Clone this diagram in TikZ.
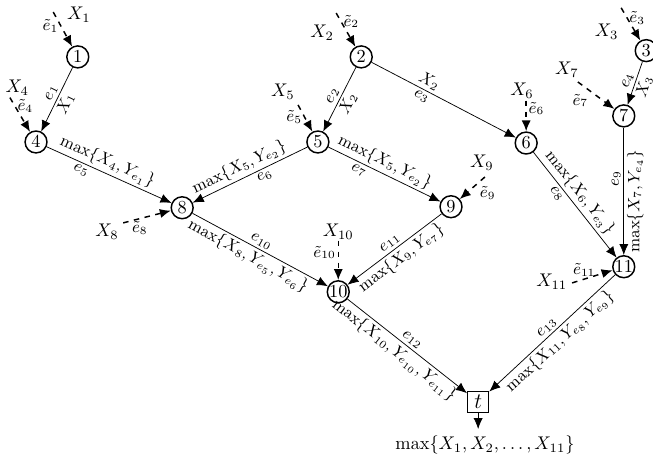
\documentclass[tikz,border=0pt]{standalone}
\usepackage{amsmath,amssymb}
\usetikzlibrary{positioning,arrows.meta}

\begin{document}
\begin{tikzpicture}[
  vertex/.style={draw,circle,thick,minimum size=4.2mm,inner sep=0pt},
  sink/.style={draw,thick,minimum size=4mm,inner sep=1pt,font=\large},
  input/.style={->,thick,dashed},
  edge label/.style={font=\small,sloped,inner sep=1.5pt},
  up label/.style={font=\small,rotate=90,inner sep=1.5pt},
  tilde label/.style={font=\small,inner sep=1pt},
  >={Latex[length=6pt,width=5pt]}]
\useasboundingbox (0,0) rectangle (12.51,8.79);
% vertices
\node[vertex] (n1) at (1.49,7.70) {$1$};
\node[vertex] (n2) at (6.92,7.70) {$2$};
\node[vertex] (n3) at (12.38,7.82) {$3$};
\node[vertex] (n4) at (0.69,6.07) {$4$};
\node[vertex] (n5) at (6.09,6.07) {$5$};
\node[vertex] (n6) at (10.08,6.05) {$6$};
\node[vertex] (n7) at (11.95,6.57) {$7$};
\node[vertex] (n8) at (3.49,4.81) {$8$};
\node[vertex] (n9) at (8.64,4.83) {$9$};
\node[vertex] (n10) at (6.48,3.20) {$10$};
\node[vertex] (n11) at (11.95,3.68) {$11$};
\node[sink] (t) at (9.16,1.09) {$t$};
\node (out) at (9.29,0.27) {$\max\{X_1, X_2, \ldots, X_{11}\}$};
% inputs
\coordinate (s1) at (1.02,8.56);
\coordinate (s2) at (6.44,8.54);
\coordinate (s3) at (11.90,8.64);
\coordinate (s4) at (0.19,6.92);
\coordinate (s5) at (5.71,6.78);
\coordinate (s6) at (10.08,6.86);
\coordinate (s7) at (11.07,7.22);
\coordinate (s8) at (2.36,4.52);
\coordinate (s9) at (9.29,5.40);
\coordinate (s10) at (6.48,4.18);
\coordinate (s11) at (10.96,3.37);
\node (x1) at (1.51,8.51) {$X_1$};
\node (x2) at (6.17,8.16) {$X_2$};
\node (x3) at (11.62,8.18) {$X_3$};
\node (x4) at (0.33,7.11) {$X_4$};
\node (x5) at (5.42,7.03) {$X_5$};
\node (x6) at (10.00,7.05) {$X_6$};
\node (x7) at (10.86,7.45) {$X_7$};
\node (x8) at (2.05,4.35) {$X_8$};
\node (x9) at (9.23,5.67) {$X_9$};
\node (x10) at (6.48,4.35) {$X_{10}$};
\node (x11) at (10.57,3.39) {$X_{11}$};
\draw[input] (s1) -- node[tilde label,left,pos=0.4]{$\tilde{e}_1$} (n1);
\draw[input] (s2) -- node[tilde label,right,pos=0.25]{$\tilde{e}_2$} (n2);
\draw[input] (s3) -- node[tilde label,right,pos=0.3]{$\tilde{e}_3$} (n3);
\draw[input] (s4) -- node[tilde label,right,pos=0.25]{$\tilde{e}_4$} (n4);
\draw[input] (s5) -- node[tilde label,left,pos=0.45]{$\tilde{e}_5$} (n5);
\draw[input] (s6) -- node[tilde label,right,pos=0.25]{$\tilde{e}_6$} (n6);
\draw[input] (s7) -- node[tilde label,below left,pos=0.35]{$\tilde{e}_7$} (n7);
\draw[input] (s8) -- node[tilde label,below,pos=0.35]{$\tilde{e}_8$} (n8);
\draw[input] (s9) -- node[tilde label,below right,pos=0.3]{$\tilde{e}_9$} (n9);
\draw[input] (s10) -- node[tilde label,left,pos=0.3]{$\tilde{e}_{10}$} (n10);
\draw[input] (s11) -- node[tilde label,above,pos=0.3]{$\tilde{e}_{11}$} (n11);
% edges
\draw[->] (n1) -- node[edge label,above,pos=0.45]{$e_1$} node[edge label,below]{$X_1$} (n4);
\draw[->] (n2) -- node[edge label,above]{$e_2$} node[edge label,below]{$X_2$} (n5);
\draw[->] (n2) -- node[edge label,above,pos=0.37]{$X_2$} node[edge label,below,pos=0.37]{$e_3$} (n6);
\draw[->] (n3) -- node[edge label,above]{$e_4$} node[edge label,below]{$X_3$} (n7);
\draw[->] (n4) -- node[edge label,above,pos=0.45]{$\max\{X_4, Y_{e_1}\}$} node[edge label,below,pos=0.3]{$e_5$} (n8);
\draw[->] (n5) -- node[edge label,above,pos=0.55]{$\max\{X_5, Y_{e_2}\}$} node[edge label,below,pos=0.4]{$e_6$} (n8);
\draw[->] (n5) -- node[edge label,above,pos=0.46]{$\max\{X_5, Y_{e_2}\}$} node[edge label,below,pos=0.3]{$e_7$} (n9);
\draw[->] (n6) -- node[edge label,above,pos=0.45]{$\max\{X_6, Y_{e_3}\}$} node[edge label,below,pos=0.35]{$e_8$} (n11);
\draw[->] (n7) -- node[up label,above,pos=0.4]{$e_9$} node[up label,below,pos=0.58]{$\max\{X_7, Y_{e_4}\}$} (n11);
\draw[->] (n8) -- node[edge label,above,pos=0.48]{$e_{10}$} node[edge label,below,pos=0.45]{$\max\{X_8, Y_{e_5}, Y_{e_6}\}$} (n10);
\draw[->] (n9) -- node[edge label,above]{$e_{11}$} node[edge label,below]{$\max\{X_9, Y_{e_7}\}$} (n10);
\draw[->] (n10) -- node[edge label,above]{$e_{12}$} node[edge label,below,pos=0.45]{$\max\{X_{10}, Y_{e_{10}}, Y_{e_{11}}\}$} (t);
\draw[->] (n11) -- node[edge label,above]{$e_{13}$} node[edge label,below]{$\max\{X_{11}, Y_{e_8}, Y_{e_9}\}$} (t);
\draw[->] (t) -- (t |- out.north);
\end{tikzpicture}
\end{document}
